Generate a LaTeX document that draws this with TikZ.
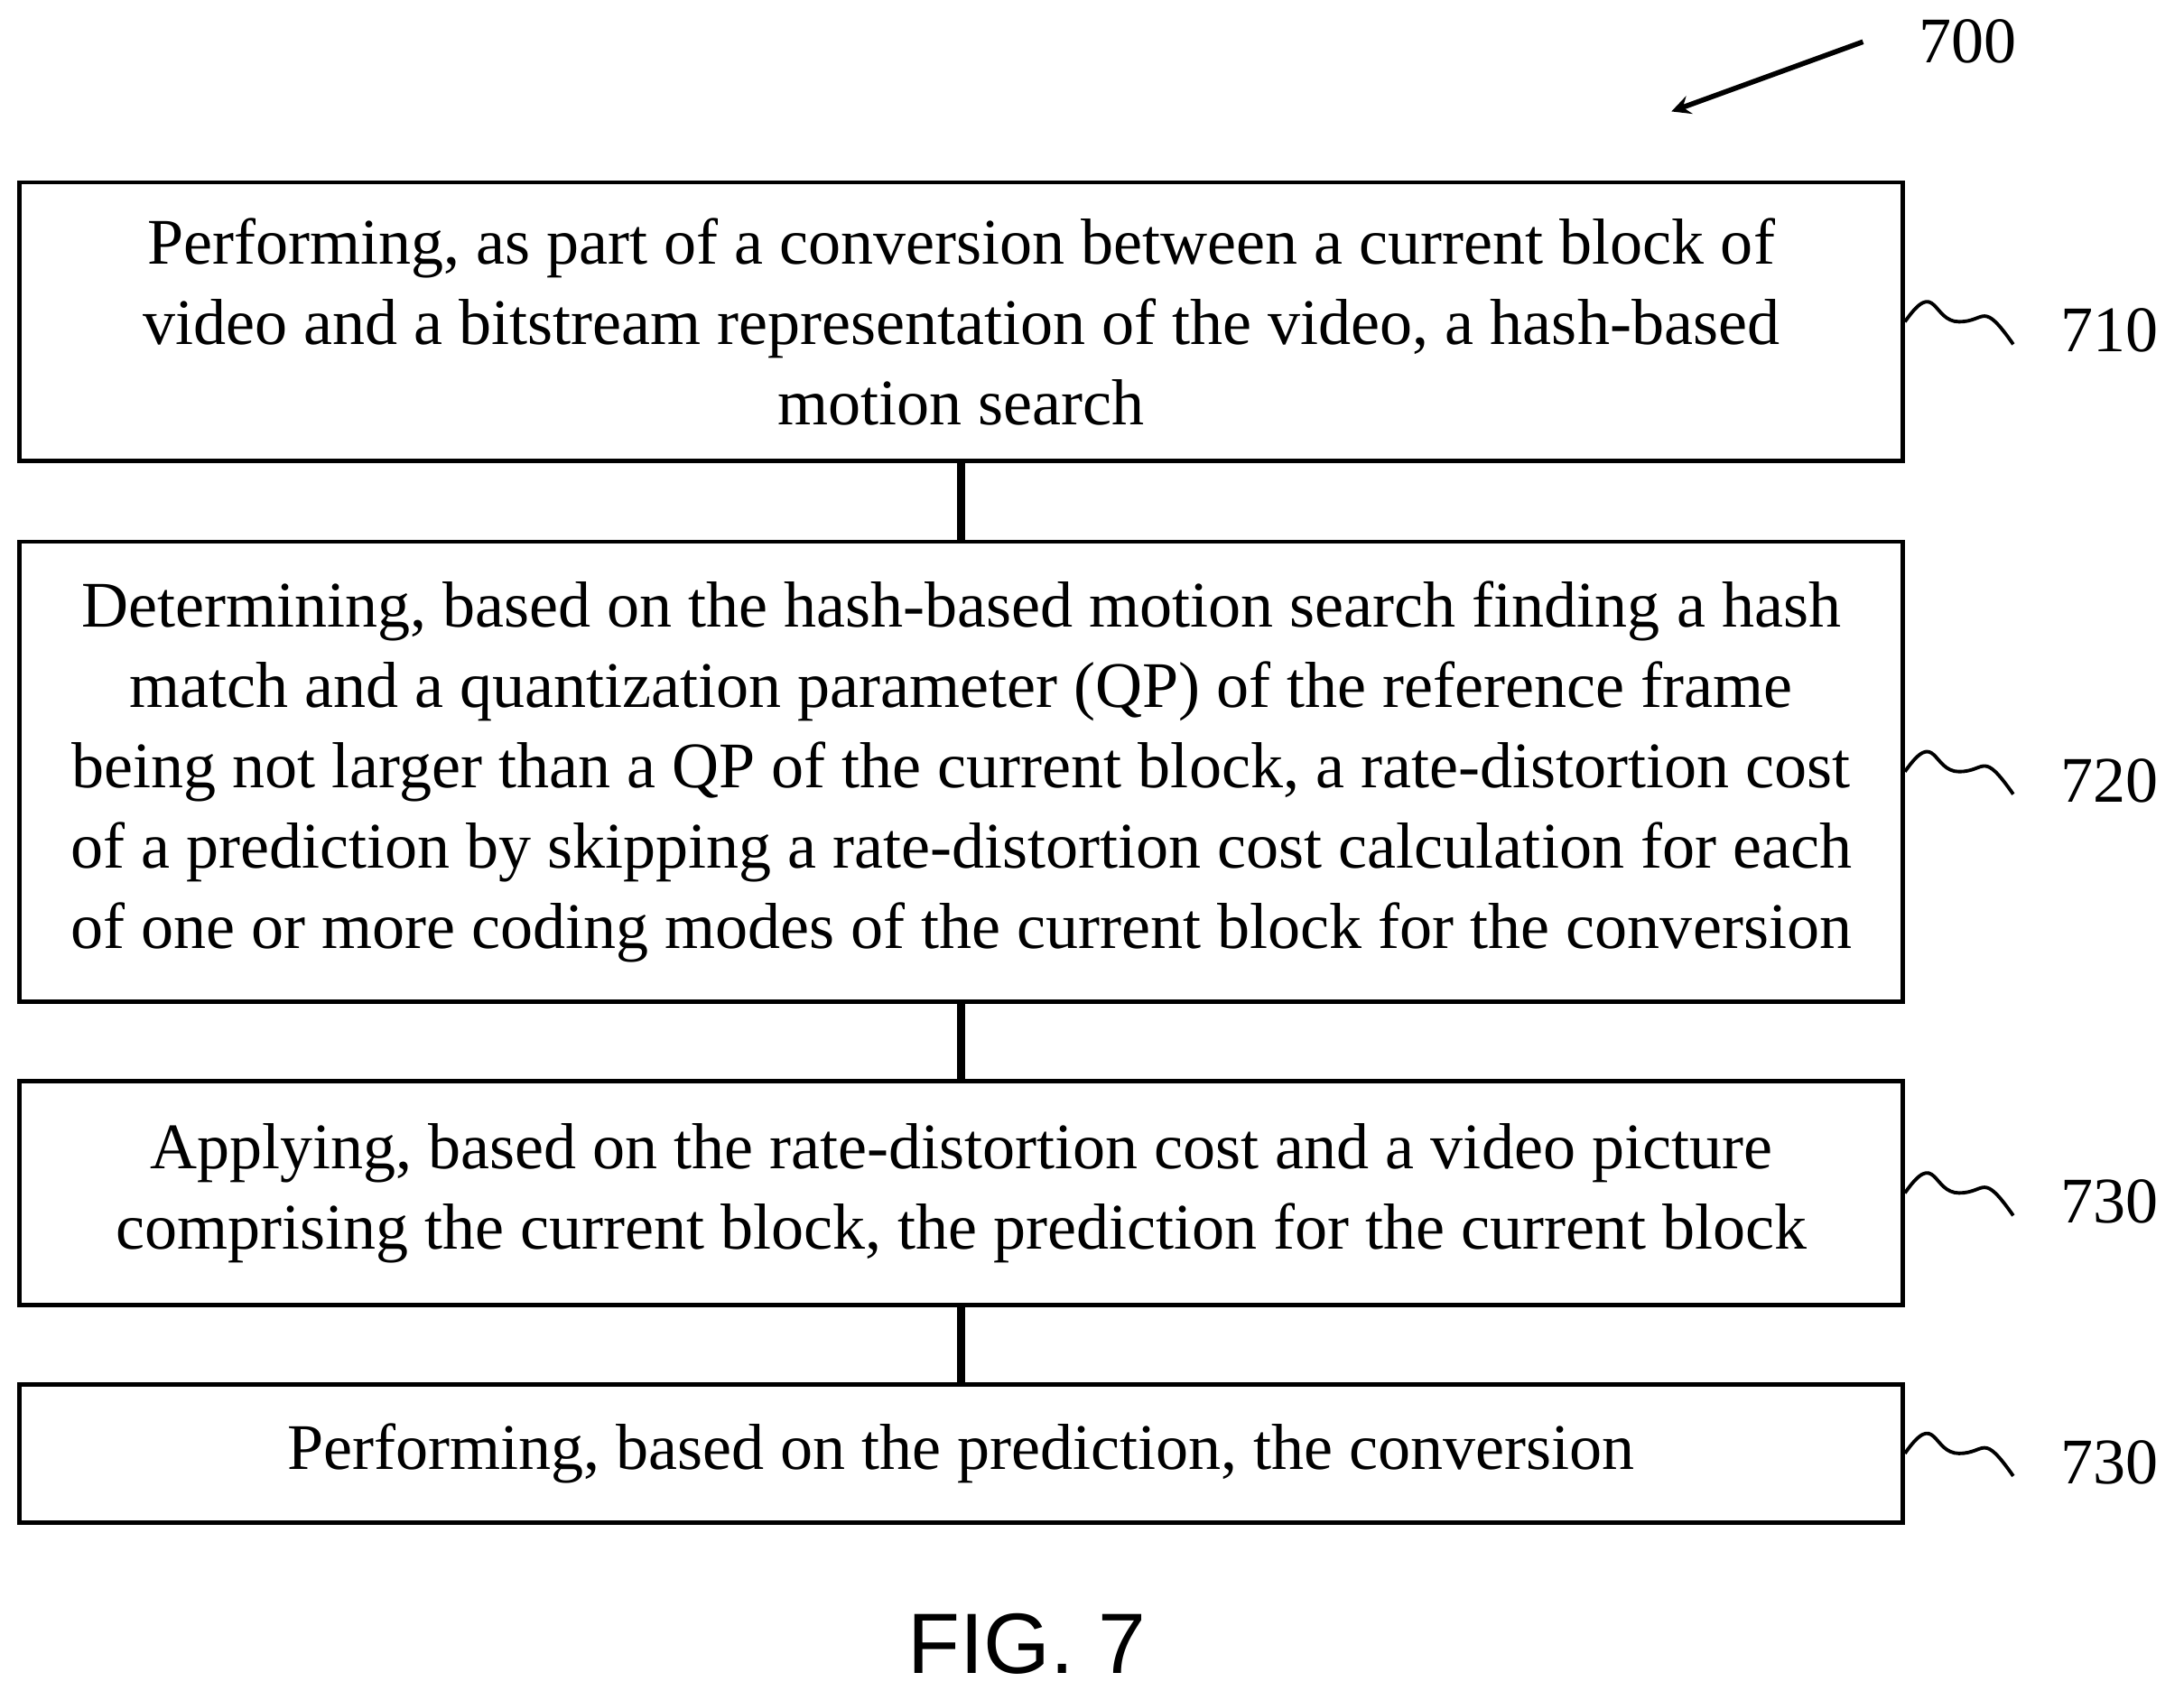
\documentclass[tikz,border=0pt]{standalone}
\usepackage{fontspec}
\setmainfont{Liberation Serif}
\setsansfont{Liberation Sans}
\usetikzlibrary{positioning}
\tikzset{
  stepbox/.style={draw, line width=1.3pt, align=center, inner sep=0pt,
    minimum width=20.86cm, font=\fontsize{20.5}{25.3}\selectfont},
  link/.style={line width=2.4pt},
  squig/.style={line width=1.1pt},
  tag/.style={font=\fontsize{20.5}{25}\selectfont, anchor=west}
}
\begin{document}
\begin{tikzpicture}[x=0.015427cm, y=-0.015427cm]
    \useasboundingbox (0,0) rectangle (1568,1214);
    % Steps
    \node[stepbox, minimum height=3.085cm] (s710) at (690,231) {Performing, as part of a conversion between a current block of\\ video and a bitstream representation of the video, a hash-based\\ motion search};
    \node[stepbox, minimum height=5.09cm] (s720) at (690,554) {Determining, based on the hash-based motion search finding a hash\\ match and a quantization parameter (QP) of the reference frame\\ being not larger than a QP of the current block, a rate-distortion cost\\ of a prediction by skipping a rate-distortion cost calculation for each\\ of one or more coding modes of the current block for the conversion};
    \node[stepbox, minimum height=2.48cm] (s730) at (690,856.5) {Applying, based on the rate-distortion cost and a video picture\\ comprising the current block, the prediction for the current block};
    \node[stepbox, minimum height=1.53cm] (s740) at (690,1043.5) {Performing, based on the prediction, the conversion};
    % Links
    \draw[link] (s710) -- (s720);
    \draw[link] (s720) -- (s730);
    \draw[link] (s730) -- (s740);
    % Reference numerals
    \foreach \s/\t in {s710/710, s720/720, s730/730, s740/730} {
        \coordinate (\s end) at ([xshift=1.2cm]\s.east);
        \draw[squig] (\s.east) .. controls +(0.35cm,0.5cm) and +(-0.3cm,0cm) .. ([xshift=0.6cm]\s.east)
            .. controls +(0.3cm,0cm) and +(-0.35cm,0.5cm) .. ([yshift=-0.25cm]\s end);
        \node[tag] (n\t) at ([xshift=0.4cm,yshift=-0.1cm]\s end) {\t};
    }
    \node[font=\fontsize{20.5}{25}\selectfont] (n700) at (1413,30) {700};
    \coordinate (a700) at (1200,80);
    \draw[line width=1.6pt, ->, >=stealth] ([xshift=-0.5cm]n700.west) -- (a700);
    \node[font=\sffamily\fontsize{27}{32}\selectfont] (fig) at (737,1180) {FIG. 7};
\end{tikzpicture}
\end{document}
